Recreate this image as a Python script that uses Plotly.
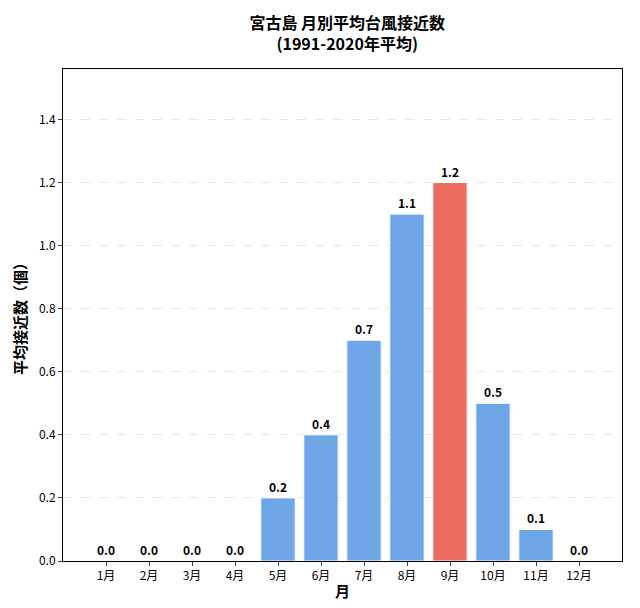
import plotly.graph_objects as go

months = ['1月', '2月', '3月', '4月', '5月', '6月', '7月', '8月', '9月', '10月', '11月', '12月']
values = [0.0, 0.0, 0.0, 0.0, 0.2, 0.4, 0.7, 1.1, 1.2, 0.5, 0.1, 0.0]

peak = max(values)
colors = ['#ec6d5f' if v == peak else '#6ea6e8' for v in values]

font = 'Noto Sans CJK JP'

fig = go.Figure(go.Bar(
    x=months, y=values,
    marker=dict(color=colors, line=dict(color='white', width=1)),
    text=['<b>%.1f</b>' % v for v in values],
    textposition='outside',
    textfont=dict(size=12, color='black', family=font),
    cliponaxis=False,
    width=0.8,
))

fig.update_layout(
    width=640, height=608,
    margin=dict(l=49, r=26, t=61, b=55),
    plot_bgcolor='white', paper_bgcolor='white',
    font=dict(family=font, size=12, color='black'),
    title=dict(text='<b>宮古島 月別平均台風接近数<br>(1991-2020年平均)</b>',
               x=0.53, xanchor='center', y=0.965, yanchor='top',
               font=dict(size=16)),
    showlegend=False,
)
fig.update_xaxes(title=dict(text='<b>月</b>', font=dict(size=15), standoff=4),
                 range=[-1, 12],
                 showline=True, linecolor='black', mirror=True,
                 ticks='outside', ticklen=4)
fig.update_yaxes(title=dict(text='<b>平均接近数（個）</b>', font=dict(size=15), standoff=8),
                 range=[0, 1.56], dtick=0.2, tickformat='.1f',
                 showline=True, linecolor='black', mirror=True,
                 ticks='outside', ticklen=4,
                 showgrid=True, gridcolor='#e6e6e6', griddash='dash',
                 zeroline=False)

fig.write_html('out.html')
